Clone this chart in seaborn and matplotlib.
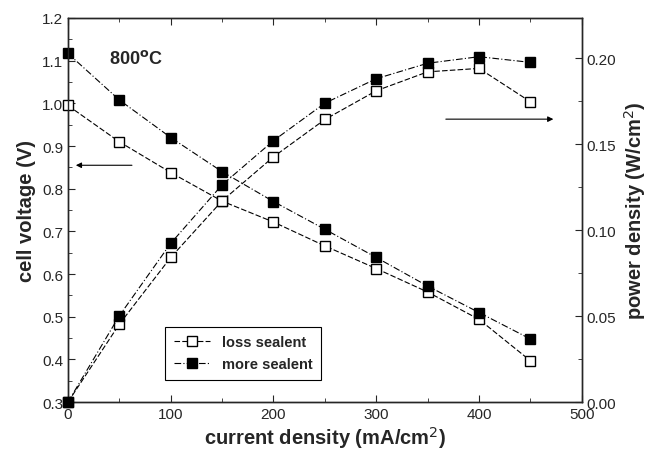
import numpy as np
import pandas as pd
import matplotlib
matplotlib.use("Agg")
import matplotlib.pyplot as plt
import seaborn as sns

# current density (mA/cm2)
current = [0, 50, 100, 150, 200, 250, 300, 350, 400, 450]
# cell voltage (V)
volt_loss = [0.995, 0.910, 0.838, 0.771, 0.722, 0.666, 0.613, 0.558, 0.494, 0.397]
volt_more = [1.117, 1.008, 0.920, 0.840, 0.770, 0.705, 0.639, 0.572, 0.510, 0.448]
# power density (W/cm2)
power_loss = [0.0, 0.0453, 0.0841, 0.117, 0.1426, 0.1643, 0.181, 0.192, 0.194, 0.1746]
power_more = [0.0, 0.0502, 0.0923, 0.1263, 0.152, 0.1738, 0.188, 0.197, 0.2008, 0.1975]

series_names = ['loss sealent', 'more sealent']

sns.set_style("ticks")
plt.rcParams['font.family'] = ['Liberation Sans', 'DejaVu Sans']
plt.rcParams['xtick.direction'] = 'in'
plt.rcParams['ytick.direction'] = 'in'

fig = plt.figure(figsize=(6.53, 4.52), dpi=100)
ax = fig.add_axes([0.104, 0.108, 0.787, 0.850])
ax2 = ax.twinx()

styles = {
    'loss sealent': dict(linestyle=(0, (5, 2)), mfc='white'),
    'more sealent': dict(linestyle=(0, (6, 2, 1, 2)), mfc='black'),
}

handles = []
for name, v, p in [('loss sealent', volt_loss, power_loss), ('more sealent', volt_more, power_more)]:
    st = styles[name]
    sns.lineplot(x=current, y=v, ax=ax, color='black', lw=0.8, marker='s', ms=6.5,
                 mec='black', mew=1.0, mfc=st['mfc'], linestyle=st['linestyle'], clip_on=False, zorder=5)
    handles.append(ax.lines[-1])
    sns.lineplot(x=current, y=p, ax=ax2, color='black', lw=0.8, marker='s', ms=6.5,
                 mec='black', mew=1.0, mfc=st['mfc'], linestyle=st['linestyle'], clip_on=False, zorder=5)

ax.set_xlim(0, 500)
ax.set_ylim(0.3, 1.2)
ax2.set_ylim(0, 0.2233)

ax.set_xticks(np.arange(0, 501, 100))
ax.set_xticks(np.arange(0, 501, 50), minor=True)
ax.set_yticks(np.arange(0.3, 1.21, 0.1))
ax.set_yticks(np.arange(0.3, 1.21, 0.05), minor=True)
ax.set_yticklabels([f"{t:.1f}" for t in np.arange(0.3, 1.21, 0.1)])
ax2.set_yticks(np.arange(0, 0.201, 0.05))
ax2.set_yticks(np.arange(0, 0.221, 0.025), minor=True)
ax2.set_yticklabels([f"{t:.2f}" for t in np.arange(0, 0.201, 0.05)])

ax.tick_params(axis='both', which='major', labelsize=11, length=5, top=True)
ax.tick_params(axis='both', which='minor', length=3, top=True)
ax.tick_params(axis='y', right=False, which='both')
ax2.tick_params(axis='y', which='major', labelsize=11, length=5)
ax2.tick_params(axis='y', which='minor', length=3)

for a in (ax, ax2):
    for s in a.spines.values():
        s.set_visible(True)
        s.set_linewidth(1.0)

ax.set_xlabel('current density (mA/cm$^2$)', fontsize=14.5, fontweight='bold', labelpad=2)
ax.set_ylabel('cell voltage (V)', fontsize=14.5, fontweight='bold')
ax2.set_ylabel('power density (W/cm$^2$)', fontsize=14.5, fontweight='bold')

ax.text(40, 1.095, '800$^{\\mathbf{o}}$C', fontsize=13, fontweight='bold')

ax.annotate('', xy=(5, 0.855), xytext=(65, 0.855),
            arrowprops=dict(arrowstyle='-|>', color='black', lw=0.8, mutation_scale=8))
ax2.annotate('', xy=(475, 0.1645), xytext=(365, 0.1645),
             arrowprops=dict(arrowstyle='-|>', color='black', lw=0.8, mutation_scale=8))

leg = ax.legend(handles, series_names, loc='lower left', bbox_to_anchor=(0.175, 0.04),
                fancybox=False, edgecolor='black', framealpha=1, fontsize=10.5,
                handlelength=2.5, borderpad=0.6)
for t in leg.get_texts():
    t.set_fontweight('bold')
leg.get_frame().set_linewidth(0.8)

fig.savefig('out.png', dpi=100)
